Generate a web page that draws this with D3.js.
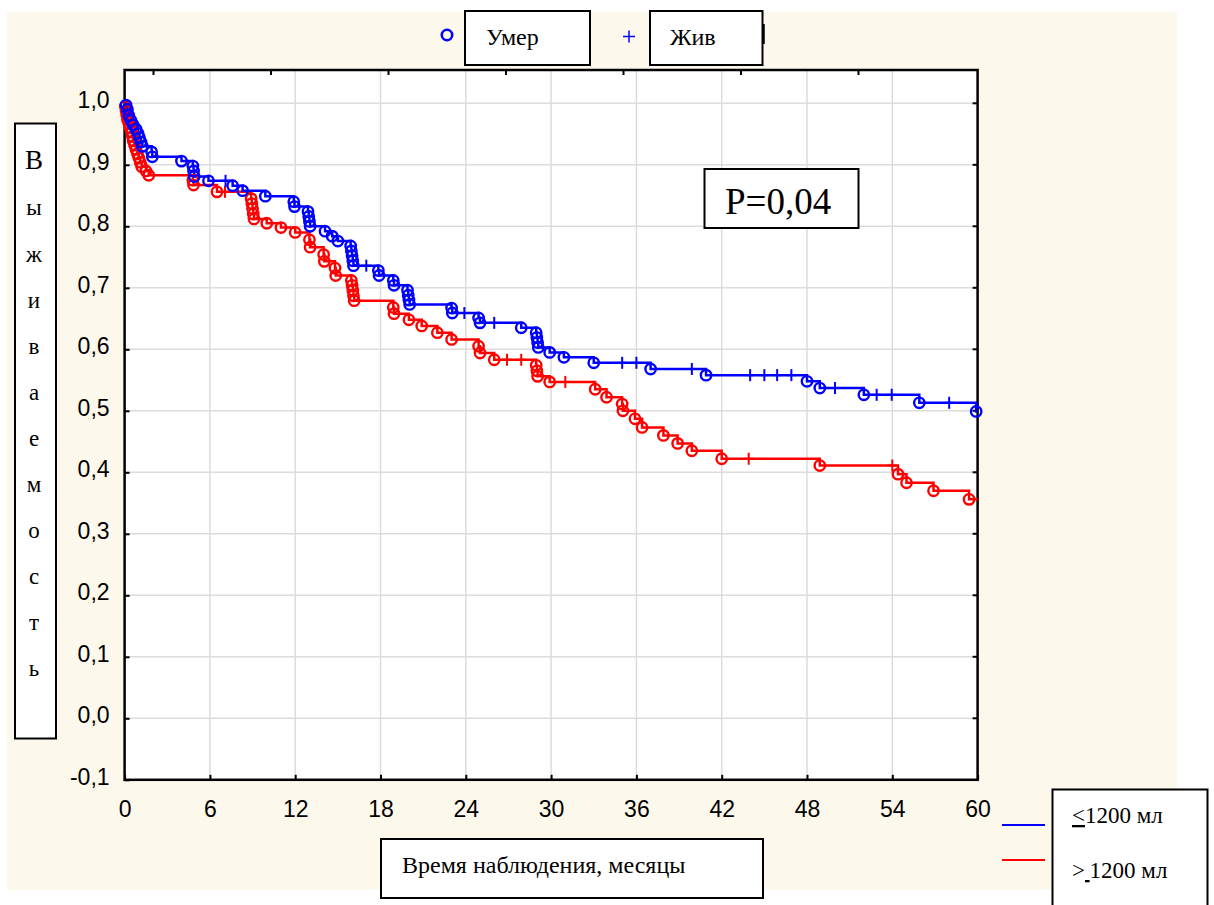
<!DOCTYPE html>
<html>
<head>
<meta charset="utf-8">
<script src="https://cdn.jsdelivr.net/npm/d3@7"></script>
<style>
  html, body { margin: 0; padding: 0; background: #ffffff; }
  svg { display: block; }
</style>
</head>
<body>
<svg id="chart" width="1214" height="905"></svg>
<script>
// ---------------- DATA ----------------
const xTicks = [0, 6, 12, 18, 24, 30, 36, 42, 48, 54, 60];
const yTicks = [-0.1, 0.0, 0.1, 0.2, 0.3, 0.4, 0.5, 0.6, 0.7, 0.8, 0.9, 1.0];

// Group "≤1200 мл" (blue): event times (months), survival after event, type (d = died, c = censored/alive)
const blueTimes = [0.1,0.2,0.3,0.45,0.6,0.8,0.95,1.05,1.15,1.25,1.9,1.95,4.0,4.8,4.85,4.9,5.9,7.1,7.6,8.3,9.9,11.9,11.95,12.9,12.95,13.0,13.05,14.1,14.6,15.0,15.9,15.95,16.0,16.05,16.1,17.0,17.85,17.9,18.9,18.95,19.9,19.95,20.0,20.05,23.0,23.05,23.9,24.9,25.0,26.0,27.9,28.95,29.0,29.05,29.1,29.9,30.9,33.0,35.0,36.0,37.0,39.9,40.9,44.0,45.0,45.9,46.9,48.0,48.9,49.97,52.0,52.9,53.96,55.9,58.0,59.9];
const blueSurv  = [0.997,0.99,0.98,0.972,0.965,0.958,0.951,0.944,0.937,0.93,0.921,0.913,0.906,0.898,0.89,0.881,0.874,0.874,0.866,0.858,0.849,0.84,0.832,0.824,0.816,0.808,0.80,0.792,0.784,0.776,0.768,0.76,0.752,0.744,0.736,0.736,0.728,0.72,0.712,0.704,0.696,0.688,0.68,0.673,0.667,0.659,0.659,0.651,0.643,0.643,0.635,0.627,0.619,0.611,0.603,0.595,0.587,0.578,0.578,0.578,0.568,0.568,0.558,0.558,0.558,0.558,0.558,0.548,0.537,0.537,0.526,0.526,0.526,0.513,0.513,0.499];
const blueType  = ["d","d","d","d","d","d","d","d","d","d","d","d","d","d","d","d","d","c","d","d","d","d","d","d","d","d","d","d","d","d","d","d","d","d","d","c","d","d","d","d","d","d","d","d","d","d","c","d","d","c","d","d","d","d","d","d","d","d","c","c","d","c","d","c","c","c","c","d","d","c","d","c","c","d","c","d"];

// Group ">1200 мл" (red)
const redTimes = [0.05,0.1,0.15,0.2,0.3,0.4,0.5,0.55,0.6,0.7,0.8,0.9,1.0,1.1,1.2,1.5,1.7,4.8,4.85,6.5,7.06,8.9,8.95,9.0,9.05,9.1,10.0,11.0,12.0,13.0,13.05,14.0,14.05,14.8,14.85,15.95,16.0,16.05,16.1,16.15,18.9,18.95,20.0,20.9,22.0,23.0,24.9,25.0,26.0,26.9,27.9,28.95,29.0,29.05,29.9,31.0,33.1,33.9,35.0,35.05,35.9,36.4,37.9,38.9,39.9,42.0,43.9,48.9,54.0,54.4,55.0,56.9,59.4];
const redSurv  = [0.995,0.988,0.981,0.974,0.967,0.96,0.953,0.946,0.939,0.932,0.925,0.918,0.911,0.904,0.897,0.89,0.883,0.875,0.867,0.856,0.856,0.845,0.837,0.829,0.82,0.812,0.805,0.798,0.79,0.778,0.766,0.754,0.743,0.732,0.72,0.712,0.704,0.696,0.687,0.679,0.668,0.658,0.648,0.638,0.627,0.616,0.605,0.594,0.583,0.583,0.583,0.574,0.565,0.556,0.547,0.547,0.535,0.522,0.511,0.5,0.487,0.473,0.46,0.447,0.435,0.422,0.422,0.411,0.411,0.397,0.383,0.37,0.356];
const redType  = ["d","d","d","d","d","d","d","d","d","d","d","d","d","d","d","d","d","d","d","d","c","d","d","d","d","d","d","d","d","d","d","d","d","d","d","d","d","d","d","d","d","d","d","d","d","d","d","d","d","c","c","d","d","d","d","c","d","d","d","d","d","d","d","d","d","d","c","d","c","d","d","d","d"];

const markerNames = ["Умер", "Жив"];
const yAxisTitle = "Выживаемость";
const xAxisTitle = "Время наблюдения, месяцы";
const pText = "P=0,04";

// ---------------- LAYOUT ----------------
const svg = d3.select("#chart");
const BLUE = "#0000ff", RED = "#ff0000";
const serif = "'Liberation Serif','Times New Roman',serif";
const sans = "'Liberation Sans',Arial,sans-serif";

const x = d3.scaleLinear().domain([0, 60]).range([124.6, 977.6]);
const y = d3.scaleLinear().domain([-0.1, 1.0]).range([779.8, 103.3]);
const plotTop = 70;

// cream page background
svg.append("rect").attr("x", 7).attr("y", 12).attr("width", 1170).attr("height", 878).attr("fill", "#fdf8ec");

// plot area
svg.append("rect").attr("x", x(0)).attr("y", plotTop).attr("width", x(60) - x(0)).attr("height", y(-0.1) - plotTop).attr("fill", "#ffffff");

// gridlines
const grid = svg.append("g").attr("stroke", "#dcdcdc").attr("stroke-width", 1.5);
grid.selectAll("line.v").data(xTicks.filter(d => d > 0 && d < 60)).join("line")
  .attr("x1", d => x(d)).attr("x2", d => x(d)).attr("y1", plotTop).attr("y2", y(-0.1));
grid.selectAll("line.h").data(yTicks.filter(d => d > -0.1)).join("line")
  .attr("x1", x(0)).attr("x2", x(60)).attr("y1", d => y(d)).attr("y2", d => y(d));

// axes
const fmtY = d => d3.format(".1f")(d).replace(".", ",").replace("−", "-");
const xAxis = svg.append("g").attr("transform", `translate(0,${y(-0.1)})`)
  .call(d3.axisBottom(x).tickValues(xTicks).tickSize(-5).tickSizeOuter(0).tickPadding(21).tickFormat(d3.format("d")));
const yAxis = svg.append("g").attr("transform", `translate(${x(0)},0)`)
  .call(d3.axisLeft(y).tickValues(yTicks).tickSize(-5).tickSizeOuter(0).tickPadding(15).tickFormat(fmtY));
[xAxis, yAxis].forEach(a => {
  a.select(".domain").remove();
  a.selectAll(".tick line").attr("stroke", "#000").attr("stroke-width", 2);
  a.selectAll("text").attr("font-family", sans).attr("font-size", 23).attr("fill", "#000");
});
yAxis.selectAll("text").attr("dy", "0.2em");
// right-side ticks
svg.append("g").selectAll("line").data(yTicks.filter(d => d > -0.1)).join("line")
  .attr("x1", x(60)).attr("x2", x(60) - 5).attr("y1", d => y(d)).attr("y2", d => y(d))
  .attr("stroke", "#000").attr("stroke-width", 2);
// top ticks
const topTickPx = [153.5, 271, 388.5, 506, 623.5, 741, 858.5];
svg.append("g").selectAll("line").data(topTickPx).join("line")
  .attr("x1", d => d).attr("x2", d => d).attr("y1", plotTop).attr("y2", plotTop + 5)
  .attr("stroke", "#000").attr("stroke-width", 2);

// frame
svg.append("rect").attr("x", x(0)).attr("y", plotTop).attr("width", x(60) - x(0)).attr("height", y(-0.1) - plotTop)
  .attr("fill", "none").attr("stroke", "#000").attr("stroke-width", 2.5);

// ---------------- CURVES ----------------
function build(times, surv, types) {
  return times.map((t, i) => ({ t, s: surv[i], type: types[i] }));
}
const groups = [
  { color: BLUE, ev: build(blueTimes, blueSurv, blueType) },
  { color: RED, ev: build(redTimes, redSurv, redType) }
];
const line = d3.line().x(d => x(d[0])).y(d => y(d[1])).curve(d3.curveStepAfter);
const plotG = svg.append("g");
[groups[1], groups[0]].forEach(g => {
  const pts = [[0, 1]].concat(g.ev.map(e => [e.t, e.s]));
  pts.push([60, g.ev[g.ev.length - 1].s]);
  plotG.append("path").attr("d", line(pts)).attr("fill", "none").attr("stroke", g.color).attr("stroke-width", 2.5);
});
[groups[1], groups[0]].forEach(g => {
  plotG.append("g").selectAll("circle").data(g.ev.filter(e => e.type === "d")).join("circle")
    .attr("cx", e => x(e.t)).attr("cy", e => y(e.s)).attr("r", 5.2)
    .attr("fill", "none").attr("stroke", g.color).attr("stroke-width", 2.4);
  const pl = plotG.append("g").attr("stroke", g.color).attr("stroke-width", 2);
  g.ev.filter(e => e.type === "c").forEach(e => {
    pl.append("line").attr("x1", x(e.t) - 5).attr("x2", x(e.t) + 5).attr("y1", y(e.s)).attr("y2", y(e.s));
    pl.append("line").attr("x1", x(e.t)).attr("x2", x(e.t)).attr("y1", y(e.s) - 6).attr("y2", y(e.s) + 6);
  });
});

// ---------------- ANNOTATIONS ----------------
// P value box
svg.append("rect").attr("x", 704.5).attr("y", 169).attr("width", 154).attr("height", 59)
  .attr("fill", "#fff").attr("stroke", "#000").attr("stroke-width", 2);
svg.append("text").attr("x", 725).attr("y", 214).attr("font-family", serif).attr("font-size", 37).text(pText);

// top legend
svg.append("circle").attr("cx", 447).attr("cy", 35).attr("r", 5.2).attr("fill", "none").attr("stroke", BLUE).attr("stroke-width", 2.6);
svg.append("line").attr("x1", 623).attr("x2", 635).attr("y1", 36.5).attr("y2", 36.5).attr("stroke", BLUE).attr("stroke-width", 1.5);
svg.append("line").attr("x1", 629).attr("x2", 629).attr("y1", 30.5).attr("y2", 42.5).attr("stroke", BLUE).attr("stroke-width", 1.5);
svg.append("rect").attr("x", 465).attr("y", 11).attr("width", 125).attr("height", 54).attr("fill", "#fff").attr("stroke", "#000").attr("stroke-width", 2);
svg.append("rect").attr("x", 650).attr("y", 11).attr("width", 112.5).attr("height", 54).attr("fill", "#fff").attr("stroke", "#000").attr("stroke-width", 2);
svg.append("line").attr("x1", 763.5).attr("x2", 763.5).attr("y1", 24).attr("y2", 44).attr("stroke", "#000").attr("stroke-width", 2.5);
svg.append("text").attr("x", 486).attr("y", 45).attr("font-family", serif).attr("font-size", 24).text(markerNames[0]);
svg.append("text").attr("x", 670).attr("y", 45).attr("font-family", serif).attr("font-size", 24).text(markerNames[1]);

// y-axis title box (vertical letters)
svg.append("rect").attr("x", 15).attr("y", 123.5).attr("width", 41).attr("height", 615).attr("fill", "#fff").attr("stroke", "#000").attr("stroke-width", 2);
const letters = Array.from(yAxisTitle);
svg.append("g").selectAll("text").data(letters).join("text")
  .attr("x", 34).attr("y", (d, i) => 169.3 + i * 46.1)
  .attr("text-anchor", "middle").attr("font-family", serif)
  .attr("font-size", (d, i) => i === 0 ? 27 : 23).text(d => d);

// x-axis title box
svg.append("rect").attr("x", 381).attr("y", 839).attr("width", 382).attr("height", 59).attr("fill", "#fff").attr("stroke", "#000").attr("stroke-width", 2);
svg.append("text").attr("x", 402).attr("y", 873).attr("font-family", serif).attr("font-size", 24).text(xAxisTitle);

// group legend (bottom right)
svg.append("line").attr("x1", 1002).attr("x2", 1045).attr("y1", 825).attr("y2", 825).attr("stroke", BLUE).attr("stroke-width", 2.2);
svg.append("line").attr("x1", 1002).attr("x2", 1045).attr("y1", 860).attr("y2", 860).attr("stroke", RED).attr("stroke-width", 2.2);
svg.append("rect").attr("x", 1052.5).attr("y", 789.5).attr("width", 155).attr("height", 130).attr("fill", "#fff").attr("stroke", "#000").attr("stroke-width", 2);
const lg1 = svg.append("text").attr("x", 1072).attr("y", 823).attr("font-family", serif).attr("font-size", 23);
lg1.append("tspan").attr("text-decoration", "underline").text("<");
lg1.append("tspan").text("1200 мл");
const lg2 = svg.append("text").attr("x", 1072).attr("y", 878).attr("font-family", serif).attr("font-size", 23);
lg2.append("tspan").text(">");
lg2.append("tspan").attr("text-decoration", "underline").text("\u2009");
lg2.append("tspan").text("1200 мл");
</script>
</body>
</html>
